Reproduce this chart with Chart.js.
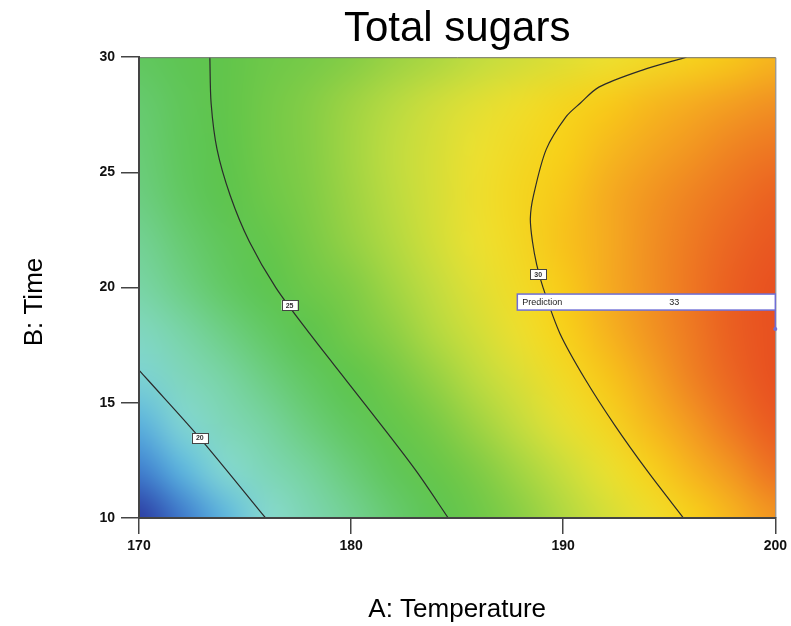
<!DOCTYPE html>
<html>
<head>
<meta charset="utf-8">
<title>Total sugars</title>
<script src="https://cdn.jsdelivr.net/npm/chart.js@4.4.1/dist/chart.umd.min.js"></script>
<style>
  html, body { margin: 0; padding: 0; background: #fff; }
  canvas { display: block; }
</style>
</head>
<body>
<canvas id="chart" width="791" height="626"></canvas>
<script>
// A: Temperature columns, B: Time rows (grid of read-off values)
const temperature = [170, 172, 174, 176, 178, 180, 182, 184, 186, 188, 190, 192, 194, 196, 198, 200];
const time = [10, 12, 14, 16, 18, 20, 22, 24, 26, 28, 30];

// total sugars, one row per time value (time = 10 first)
const sugarsT10 = [15.9, 17.3, 18.7, 20.0, 21.3, 22.5, 23.6, 24.7, 25.7, 26.7, 27.6, 28.5, 29.3, 30.1, 30.8, 31.5];
const sugarsT12 = [17.4, 18.7, 19.9, 21.1, 22.2, 23.3, 24.4, 25.4, 26.4, 27.3, 28.2, 29.1, 30.0, 30.8, 31.5, 32.3];
const sugarsT14 = [18.6, 19.8, 21.0, 22.1, 23.2, 24.2, 25.3, 26.2, 27.2, 28.1, 29.0, 29.8, 30.7, 31.4, 32.2, 32.9];
const sugarsT16 = [19.7, 20.8, 21.9, 23.0, 24.0, 25.1, 26.0, 27.0, 27.9, 28.7, 29.6, 30.4, 31.1, 31.9, 32.6, 33.2];
const sugarsT18 = [20.7, 21.8, 22.9, 23.9, 24.9, 25.9, 26.8, 27.7, 28.5, 29.3, 30.1, 30.8, 31.5, 32.1, 32.8, 33.4];
const sugarsT20 = [21.9, 22.9, 23.9, 24.8, 25.7, 26.5, 27.3, 28.1, 28.9, 29.6, 30.3, 31.0, 31.6, 32.2, 32.8, 33.3];
const sugarsT22 = [22.5, 23.5, 24.4, 25.3, 26.2, 27.0, 27.7, 28.5, 29.2, 29.8, 30.5, 31.0, 31.6, 32.1, 32.6, 33.0];
const sugarsT24 = [23.1, 24.0, 24.9, 25.7, 26.5, 27.2, 27.9, 28.6, 29.3, 29.9, 30.4, 31.0, 31.5, 31.9, 32.3, 32.7];
const sugarsT26 = [23.4, 24.3, 25.1, 25.9, 26.6, 27.3, 28.0, 28.6, 29.2, 29.7, 30.2, 30.7, 31.1, 31.5, 31.9, 32.2];
const sugarsT28 = [23.6, 24.4, 25.2, 25.9, 26.6, 27.2, 27.8, 28.4, 28.9, 29.4, 29.9, 30.3, 30.7, 31.0, 31.3, 31.6];
const sugarsT30 = [24.2, 24.7, 25.2, 25.7, 26.1, 26.6, 27.1, 27.5, 28.0, 28.4, 28.8, 29.2, 29.6, 30.0, 30.4, 30.8];
const sugars = [sugarsT10, sugarsT12, sugarsT14, sugarsT16, sugarsT18, sugarsT20,
                sugarsT22, sugarsT24, sugarsT26, sugarsT28, sugarsT30];

// contour lines
const contour20Temp = [170.0, 170.42, 172.87, 175.97];
const contour20Time = [16.42, 15.99, 13.47, 10.0];
const contour25Temp = [173.34, 173.40, 173.68, 174.30, 175.20, 176.45, 178.05, 179.75, 181.45, 183.10, 184.58];
const contour25Time = [30, 28, 26, 24, 22, 20, 18, 16, 14, 12, 10];
const contour30Temp = [195.81, 193.70, 191.68, 190.80, 190.12, 189.20, 188.60, 188.45, 188.55, 188.75, 189.05, 189.85, 191.05, 192.45, 194.00, 195.67];
const contour30Time = [30.0, 29.43, 28.70, 28.0, 27.40, 26.0, 24.0, 23.0, 22.0, 21.0, 20.0, 18.0, 16.0, 14.0, 12.0, 10.0];

// contour label positions
const contourLevels = [20, 25, 30];
const contourLabelTemp = [172.87, 177.10, 188.82];
const contourLabelTime = [13.47, 19.24, 20.58];

// prediction flag
const predictionTemp = 200;
const predictionTime = 18.2;
const predictionValue = 33;

const tempTicks = [170, 180, 190, 200];
const timeTicks = [10, 15, 20, 25, 30];

// colour ramp: blue - cyan - green - yellow - red
const colorStops = [
    [15.9, [44, 58, 160]],
    [17.5, [63, 127, 208]],
    [19.0, [98, 192, 226]],
    [20.0, [134, 216, 208]],
    [22.0, [120, 212, 164]],
    [24.0, [98, 200, 98]],
    [25.0, [92, 196, 76]],
    [26.5, [128, 204, 70]],
    [28.0, [192, 220, 64]],
    [29.2, [236, 224, 48]],
    [30.2, [248, 208, 24]],
    [31.0, [245, 172, 32]],
    [31.8, [240, 136, 34]],
    [32.5, [236, 104, 34]],
    [33.2, [232, 80, 32]],
];

function colorFor(v) {
    if (v <= colorStops[0][0]) return colorStops[0][1];
    for (let i = 1; i < colorStops.length; i++) {
        const [v1, c1] = colorStops[i];
        if (v <= v1) {
            const [v0, c0] = colorStops[i - 1];
            const t = (v - v0) / (v1 - v0);
            return c0.map((c, k) => Math.round(c + (c1[k] - c) * t));
        }
    }
    return colorStops[colorStops.length - 1][1];
}

const heatmapPlugin = {
    id: 'heatmap',
    beforeDatasetsDraw(chart) {
        const { ctx, chartArea, scales: { x, y } } = chart;
        const nx = temperature.length;
        const ny = time.length;
        const off = document.createElement('canvas');
        off.width = nx;
        off.height = ny;
        const octx = off.getContext('2d');
        const img = octx.createImageData(nx, ny);
        for (let j = 0; j < ny; j++) {
            const row = sugars[ny - 1 - j];
            for (let i = 0; i < nx; i++) {
                const [r, g, b] = colorFor(row[i]);
                const k = (j * nx + i) * 4;
                img.data[k] = r;
                img.data[k + 1] = g;
                img.data[k + 2] = b;
                img.data[k + 3] = 255;
            }
        }
        octx.putImageData(img, 0, 0);

        const dx = (temperature[1] - temperature[0]) / 2;
        const dy = (time[1] - time[0]) / 2;
        const left = x.getPixelForValue(temperature[0] - dx);
        const right = x.getPixelForValue(temperature[nx - 1] + dx);
        const top = y.getPixelForValue(time[ny - 1] + dy);
        const bottom = y.getPixelForValue(time[0] - dy);

        ctx.save();
        ctx.beginPath();
        ctx.rect(chartArea.left, chartArea.top, chartArea.width, chartArea.height);
        ctx.clip();
        ctx.imageSmoothingEnabled = true;
        ctx.imageSmoothingQuality = 'high';
        ctx.drawImage(off, left, top, right - left, bottom - top);
        ctx.restore();
    }
};

const overlayPlugin = {
    id: 'overlay',
    afterDatasetsDraw(chart) {
        const { ctx, chartArea, scales: { x, y } } = chart;
        ctx.save();

        // frame top / right
        ctx.strokeStyle = '#777';
        ctx.lineWidth = 1;
        ctx.beginPath();
        ctx.moveTo(chartArea.left, chartArea.top + 0.5);
        ctx.lineTo(chartArea.right + 0.5, chartArea.top + 0.5);
        ctx.lineTo(chartArea.right + 0.5, chartArea.bottom);
        ctx.stroke();

        // contour labels
        ctx.font = 'bold 7px "Liberation Sans", Arial, sans-serif';
        ctx.textAlign = 'center';
        ctx.textBaseline = 'middle';
        contourLevels.forEach((level, i) => {
            const px = x.getPixelForValue(contourLabelTemp[i]);
            const py = y.getPixelForValue(contourLabelTime[i]);
            ctx.fillStyle = '#fff';
            ctx.fillRect(px - 8, py - 5, 16, 10);
            ctx.strokeStyle = '#444';
            ctx.lineWidth = 1;
            ctx.strokeRect(Math.round(px - 8) + 0.5, Math.round(py - 5) + 0.5, 16, 10);
            ctx.fillStyle = '#333';
            ctx.fillText(String(level), px, py + 0.5);
        });

        // prediction flag
        const ppx = x.getPixelForValue(predictionTemp);
        const ppy = y.getPixelForValue(predictionTime);
        const boxW = 258, boxH = 16;
        const bx = ppx - boxW, by = ppy - 35;
        ctx.fillStyle = '#fff';
        ctx.fillRect(bx, by, boxW, boxH);
        ctx.strokeStyle = '#6f6fd6';
        ctx.lineWidth = 1.5;
        ctx.strokeRect(bx, by, boxW, boxH);
        ctx.beginPath();
        ctx.moveTo(ppx, by + boxH);
        ctx.lineTo(ppx, ppy);
        ctx.stroke();
        ctx.fillStyle = '#6f6fd6';
        ctx.beginPath();
        ctx.arc(ppx, ppy, 2, 0, Math.PI * 2);
        ctx.fill();
        ctx.fillStyle = '#222';
        ctx.font = '9px "Liberation Sans", Arial, sans-serif';
        ctx.textAlign = 'left';
        ctx.fillText('Prediction', bx + 5, by + boxH / 2 + 0.5);
        ctx.textAlign = 'center';
        ctx.fillText(String(predictionValue), bx + 157, by + boxH / 2 + 0.5);

        ctx.restore();
    }
};

function contourDataset(xs, ys) {
    return {
        data: xs.map((v, i) => ({ x: v, y: ys[i] })),
        showLine: true,
        borderColor: '#2b2b2b',
        borderWidth: 1.2,
        pointRadius: 0,
        tension: 0.3,
        fill: false,
    };
}

const tickFont = { family: '"Liberation Sans", Arial, sans-serif', size: 14, weight: 'bold' };
const titleFont = { family: '"Liberation Sans", Arial, sans-serif', size: 26 };

new Chart(document.getElementById('chart'), {
    type: 'scatter',
    data: {
        datasets: [
            contourDataset(contour20Temp, contour20Time),
            contourDataset(contour25Temp, contour25Time),
            contourDataset(contour30Temp, contour30Time),
        ],
    },
    options: {
        responsive: false,
        animation: false,
        layout: { padding: { left: 0, right: 15, top: 0, bottom: 0 } },
        plugins: {
            legend: { display: false },
            tooltip: { enabled: false },
            title: {
                display: true,
                fullSize: false,
                text: 'Total sugars',
                color: '#000',
                font: { family: '"Liberation Sans Narrow", "Liberation Sans", Arial, sans-serif', size: 42, weight: 'normal', lineHeight: 1.1 },
                padding: { top: 6, bottom: 5 },
            },
        },
        scales: {
            x: {
                type: 'linear',
                min: tempTicks[0],
                max: tempTicks[tempTicks.length - 1],
                afterBuildTicks: (scale) => { scale.ticks = tempTicks.map(v => ({ value: v })); },
                afterFit: (scale) => { scale.height = 108; },
                ticks: { color: '#111', font: tickFont, padding: 4, maxRotation: 0 },
                grid: { drawOnChartArea: false, drawTicks: true, tickLength: 16, tickColor: '#444', lineWidth: 1.5 },
                border: { color: '#444', width: 2, z: 1 },
                title: { display: true, text: 'A: Temperature', color: '#000', font: titleFont, padding: { top: 0, bottom: 1 } },
            },
            y: {
                type: 'linear',
                min: timeTicks[0],
                max: timeTicks[timeTicks.length - 1],
                afterBuildTicks: (scale) => { scale.ticks = timeTicks.map(v => ({ value: v })); },
                afterFit: (scale) => { scale.width = 139; },
                ticks: { color: '#111', font: tickFont, padding: 6 },
                grid: { drawOnChartArea: false, drawTicks: true, tickLength: 18, tickColor: '#444', lineWidth: 1.5 },
                border: { color: '#444', width: 2, z: 1 },
                title: { display: true, text: 'B: Time    ', color: '#000', font: titleFont, padding: { top: 19, bottom: 0 } },
            },
        },
    },
    plugins: [heatmapPlugin, overlayPlugin],
});
</script>
</body>
</html>
